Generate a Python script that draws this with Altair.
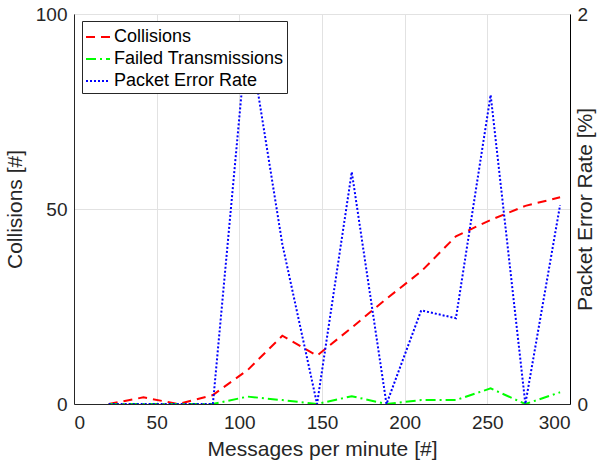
import altair as alt
import pandas as pd

# Messages per minute (x) and the three measured series
messages = [21, 42, 63, 84, 105, 126, 147, 168, 189, 210, 231, 252, 273, 294]
collisions = [0, 1.7, 0, 2.3, 8.7, 17.5, 12.4, 19.6, 27, 34, 43, 47.2, 50.8, 53]
failed = [0, 0, 0, 0, 1.9, 1, 0, 2, 0, 1, 1, 4, 0, 3]
packet_error_rate = [0, 0, 0, 0, 1.93, 0.82, 0, 1.19, 0, 0.48, 0.44, 1.585, 0, 1.02]

series_names = ["Collisions", "Failed Transmissions", "Packet Error Rate"]
series_colors = ["#ff0000", "#00ff00", "#0000ff"]
series_dashes = [[9, 6], [10, 4, 2, 4], [2, 2]]

x_ticks = [0, 50, 100, 150, 200, 250, 300]
left_ticks = [0, 50, 100]
right_ticks = [0, 1, 2]

rows = []
for name, vals in zip(series_names, [collisions, failed, packet_error_rate]):
    for m, v in zip(messages, vals):
        rows.append({"messages": m, "value": v, "series": name})
df = pd.DataFrame(rows)

FONT = "Liberation Sans"

legend = alt.Legend(title=None, orient="none", legendX=8, legendY=7, labelLimit=0)
color = alt.Color(
    "series:N",
    scale=alt.Scale(domain=series_names, range=series_colors),
    legend=legend,
)
dash = alt.StrokeDash(
    "series:N",
    scale=alt.Scale(domain=series_names, range=series_dashes),
    legend=legend,
)

x = alt.X(
    "messages:Q",
    scale=alt.Scale(domain=[0, 300], nice=False, zero=False),
    axis=alt.Axis(values=x_ticks, title="Messages per minute [#]", grid=True,
                  labelPadding=9, titlePadding=6),
)

base = alt.Chart(df)

left = base.transform_filter(
    alt.FieldOneOfPredicate(field="series", oneOf=series_names[:2])
).mark_line(strokeWidth=2, strokeCap="butt", clip=True).encode(
    x=x,
    y=alt.Y(
        "value:Q",
        scale=alt.Scale(domain=[0, 100], nice=False),
        axis=alt.Axis(values=left_ticks, title="Collisions [#]", grid=True,
                      labelPadding=7, titlePadding=10),
    ),
    color=color,
    strokeDash=dash,
)

right = base.transform_filter(
    alt.FieldEqualPredicate(field="series", equal=series_names[2])
).mark_line(strokeWidth=2, strokeCap="butt", clip=True).encode(
    x=x,
    y=alt.Y(
        "value:Q",
        scale=alt.Scale(domain=[0, 2], nice=False),
        axis=alt.Axis(values=right_ticks, format="d", title="Packet Error Rate [%]",
                      orient="right", grid=False, labelPadding=7, titlePadding=8,
                      titleAngle=270, domainColor="#000000"),
    ),
    color=color,
    strokeDash=dash,
)

chart = alt.layer(left, right).resolve_scale(y="independent").properties(
    width=496,
    height=390,
    autosize=alt.AutoSizeParams(type="none"),
    padding={"left": 74, "top": 14, "right": 43, "bottom": 61},
).configure_view(
    stroke="#808080", strokeWidth=1
).configure_axis(
    labelFont=FONT, titleFont=FONT, labelFontSize=19, titleFontSize=21,
    titleFontWeight="normal", labelColor="#262626", titleColor="#262626",
    domainColor="#262626", domainWidth=1, gridColor="#e2e2e2", ticks=False,
).configure_legend(
    labelFont=FONT, labelFontSize=18, labelColor="#000000",
    symbolType="stroke", symbolSize=576, symbolStrokeWidth=2,
    strokeColor="#262626", fillColor="#ffffff", padding=3, rowPadding=0,
    labelOffset=3, cornerRadius=0,
)

chart.save("out.html", embed_options={"renderer": "svg", "actions": False})
